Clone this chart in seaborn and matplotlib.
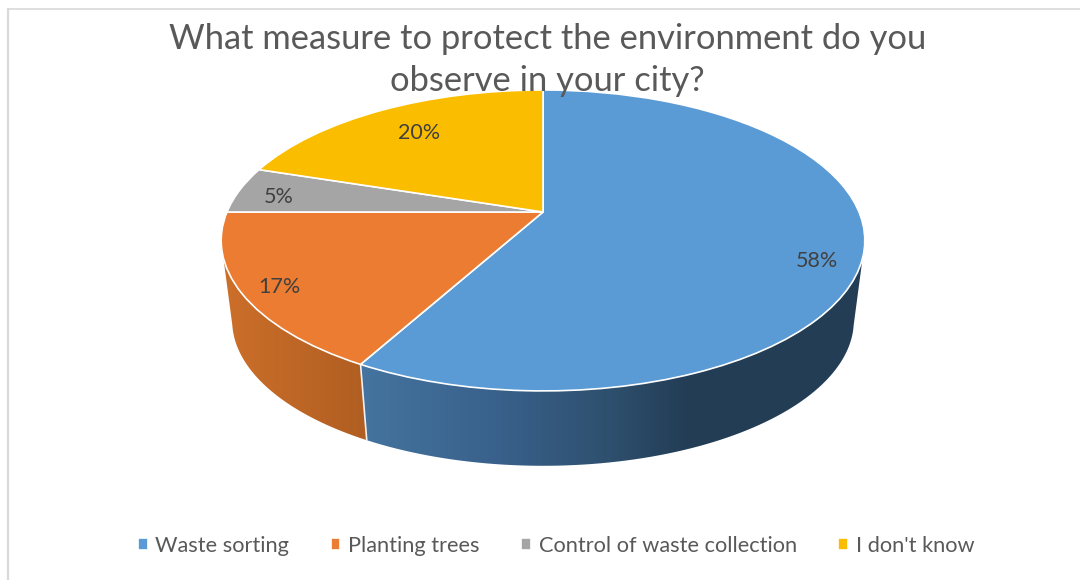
import numpy as np
import matplotlib
matplotlib.use("Agg")
import matplotlib.pyplot as plt
import seaborn as sns
from matplotlib.colors import LinearSegmentedColormap
from matplotlib.patches import Polygon
from matplotlib.transforms import Transform

categories = ["Waste sorting", "Planting trees", "Control of waste collection", "I don't know"]
values = [58, 17, 5, 20]
colors = ["#5B9BD5", "#EB7C31", "#A5A5A5", "#FBBD00"]
title = "What measure to protect the environment do you\nobserve in your city?"

# pixel geometry of the tilted disc
CX, CY = 543, 212
A, B, K = 316, 145.1, 0.189
LOW_SCALE, LOW_CY, ELL_OFF = 0.966, 320.5, -28.5


def project(x, y):
    d = 1 + K * y
    return CX + A * x / d, CY - B * y / d


def project_low(x, y):
    d = 1 + K * y
    return CX + LOW_SCALE * A * x / d, LOW_CY - LOW_SCALE * (B * y / d - ELL_OFF)


class Tilt(Transform):
    input_dims = output_dims = 2
    is_separable = False
    has_inverse = False

    def transform_non_affine(self, pts):
        pts = np.asarray(pts, float)
        return np.column_stack(project(pts[:, 0], pts[:, 1]))


sns.set_theme(style="white")
plt.rcParams["font.family"] = ["Lato", "DejaVu Sans"]

fig = plt.figure(figsize=(10.8, 5.8), dpi=100, facecolor="white")
ax = fig.add_axes([0, 0, 1, 1])

wedges, _, autotexts = ax.pie(
    values, colors=colors, startangle=90, counterclock=False, autopct="%.0f%%",
    wedgeprops=dict(edgecolor="white", linewidth=1.2),
    textprops=dict(color="#404040", fontsize=15.5),
)
ax.set_aspect("auto")
ax.axis("off")

tilt = Tilt() + ax.transData
for w in wedges:
    w.set_transform(tilt)
    w.set_zorder(3)
    w.set_clip_on(False)

# extruded side of the disc, taken from the same value shares
cum = np.cumsum([0] + values) * 3.6
side_maps = [
    (["#44749F", "#38608A", "#2F5170", "#233D55", "#233D55"], [0.0, 0.28, 0.48, 0.65, 1.0]),
    (["#CC6F2A", "#B05E22"], [0.0, 1.0]),
]
UP_LIM, LOW_LIM = (107.4, 252.6), (102.6, 257.4)
for i, (cols, stops) in enumerate(side_maps):
    a0, a1 = cum[i], cum[i + 1]
    tu = np.radians(np.linspace(max(a0, UP_LIM[0]), min(a1, UP_LIM[1]), 80))
    tl = np.radians(np.linspace(max(a0, LOW_LIM[0]), min(a1, LOW_LIM[1]), 80))
    ux, uy = project(np.sin(tu), np.cos(tu))
    lx, ly = project_low(np.sin(tl), np.cos(tl))
    xy = np.vstack([np.column_stack([ux, uy]), np.column_stack([lx, ly])[::-1]])
    cmap = LinearSegmentedColormap.from_list("s", list(zip(stops, cols)))
    x0, x1 = xy[:, 0].min(), xy[:, 0].max()
    grad = np.linspace(0, 1, 256)[None, :]
    im = ax.imshow(grad, cmap=cmap, aspect="auto", extent=(x0, x1, xy[:, 1].max(), xy[:, 1].min()),
                   vmin=0, vmax=1, zorder=1)
    clip = Polygon(xy, closed=True, transform=ax.transData, fc="none", ec="none")
    ax.add_patch(clip)
    im.set_clip_path(clip)
ax.set_aspect("auto")
ax.set_xlim(0, 1080)
ax.set_ylim(580, 0)

# white seam between the two visible side faces
t = np.radians(cum[1])
ax.plot([project(np.sin(t), np.cos(t))[0], project_low(np.sin(t), np.cos(t))[0]],
        [project(np.sin(t), np.cos(t))[1], project_low(np.sin(t), np.cos(t))[1]],
        color="#F2F2F2", lw=1.2, zorder=2)

# percentage labels
label_r = [0.86, 0.885, 0.87, 0.745]
label_dy = [17, 4, 4, 0]
for i, txt in enumerate(autotexts):
    mid = np.radians((cum[i] + cum[i + 1]) / 2)
    px, py = project(label_r[i] * np.sin(mid), label_r[i] * np.cos(mid))
    txt.set_position((px, py + label_dy[i]))
    txt.set_zorder(5)
    txt.set_ha("center")
    txt.set_va("center")

ax.text(547.5, 60, title, ha="center", va="center", fontsize=24.8, color="#595959",
        linespacing=1.36, zorder=6)

leg = ax.legend(
    wedges, categories, ncol=4, loc="center", bbox_to_anchor=(556 / 1080, 1 - 546 / 580),
    frameon=False, fontsize=15.7, labelcolor="#595959", handlelength=0.45, handleheight=0.45,
    handletextpad=0.36, columnspacing=1.89, borderpad=0,
)

# chart frame
ax.plot([7.5, 7.5], [580, 8.5], color="#D9D9D9", lw=1.6, clip_on=False, zorder=0)
ax.plot([7.5, 1080], [8.5, 8.5], color="#D9D9D9", lw=1.2, clip_on=False, zorder=0)

fig.savefig("out.png", dpi=100)
